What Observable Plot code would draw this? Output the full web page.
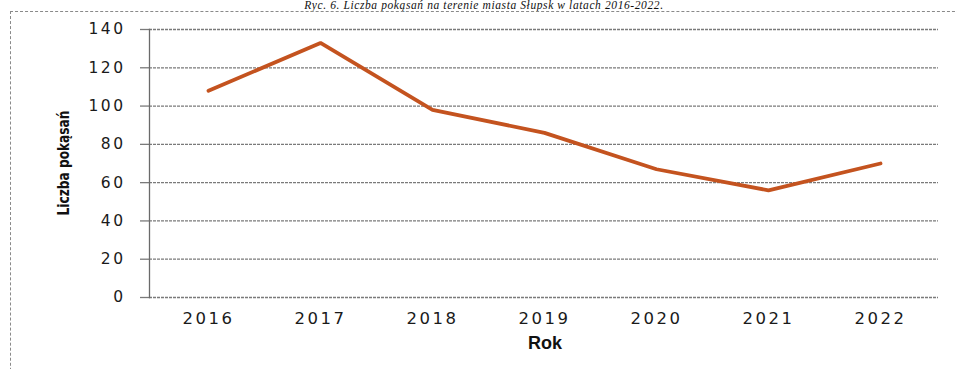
<!DOCTYPE html>
<html>
<head>
<meta charset="utf-8">
<script src="https://cdn.jsdelivr.net/npm/d3@7"></script>
<script src="https://cdn.jsdelivr.net/npm/@observablehq/plot@0.6"></script>
<style>
  html, body { margin: 0; padding: 0; background: #fff; overflow: hidden; }
  #wrap { position: relative; width: 957px; height: 369px; overflow: hidden; }
  #title { position: absolute; left: 484px; top: -1px; transform: translateX(-50%); font-family: "Liberation Serif", "DejaVu Serif", serif; font-style: italic; font-size: 11.5px; line-height: 12px; color: #111; white-space: nowrap; letter-spacing: 0.6px; }
  #frame { position: absolute; left: 10px; top: 11px; width: 960px; height: 400px; border-top: 1.5px dashed #8a8a8a; border-left: 1.5px dashed #8a8a8a; box-sizing: border-box; }
  #chart { position: absolute; left: 0; top: 0; }
  #ylabel { position: absolute; left: 63px; top: 163px; transform: translate(-50%, -50%) rotate(-90deg) scaleX(0.82); font-family: "Liberation Sans Narrow", "DejaVu Sans Condensed", "Liberation Sans", sans-serif; font-weight: bold; font-size: 16.5px; color: #111; white-space: nowrap; }
  #xlabel { position: absolute; left: 545px; top: 343px; transform: translate(-50%, -50%); font-family: "Liberation Sans", sans-serif; font-weight: bold; font-size: 18px; color: #111; }
</style>
</head>
<body>
<div id="wrap">
  <div id="title">Ryc. 6. Liczba pokąsań na terenie miasta Słupsk w latach 2016-2022.</div>
  <div id="frame"></div>
  <div id="chart"></div>
  <div id="ylabel">Liczba pokąsań</div>
  <div id="xlabel">Rok</div>
</div>
<script>
const years = ["2016", "2017", "2018", "2019", "2020", "2021", "2022"];
const bites = [108, 133, 98, 86, 67, 56, 70];
const yTicks = [0, 20, 40, 60, 80, 100, 120, 140];

const data = years.map((y, i) => ({year: y, value: bites[i]}));

const chart = Plot.plot({
  width: 957,
  height: 369,
  marginLeft: 149,
  marginRight: 19,
  marginTop: 29,
  marginBottom: 72,
  style: {background: "transparent", fontFamily: "DejaVu Sans, sans-serif", color: "#222"},
  x: {type: "point", domain: years, padding: 0.5, label: null},
  y: {domain: [0, 140], label: null},
  marks: [
    Plot.ruleY(yTicks, {stroke: "#7a7a7a", strokeWidth: 1.3, strokeDasharray: "3,1"}),
    Plot.axisY(yTicks, {tickSize: 9, tickPadding: 15, stroke: "#7a7a7a", strokeWidth: 1.3, fontSize: 15.5, fill: "#1a1a1a", label: null}),
    Plot.axisX({tickSize: 0, tickPadding: 15, fontSize: 16.5, fill: "#1a1a1a", label: null}),
    Plot.frame({anchor: "left", stroke: "#6a6a6a", strokeWidth: 1.3}),
    Plot.line(data, {x: "year", y: "value", stroke: "#c4531f", strokeWidth: 3.8, strokeLinejoin: "miter"})
  ]
});
document.getElementById("chart").appendChild(chart);
chart.querySelectorAll("g[aria-label='x-axis tick label'] text, g[aria-label='y-axis tick label'] text").forEach(t => t.style.letterSpacing = "2.5px");
</script>
</body>
</html>
